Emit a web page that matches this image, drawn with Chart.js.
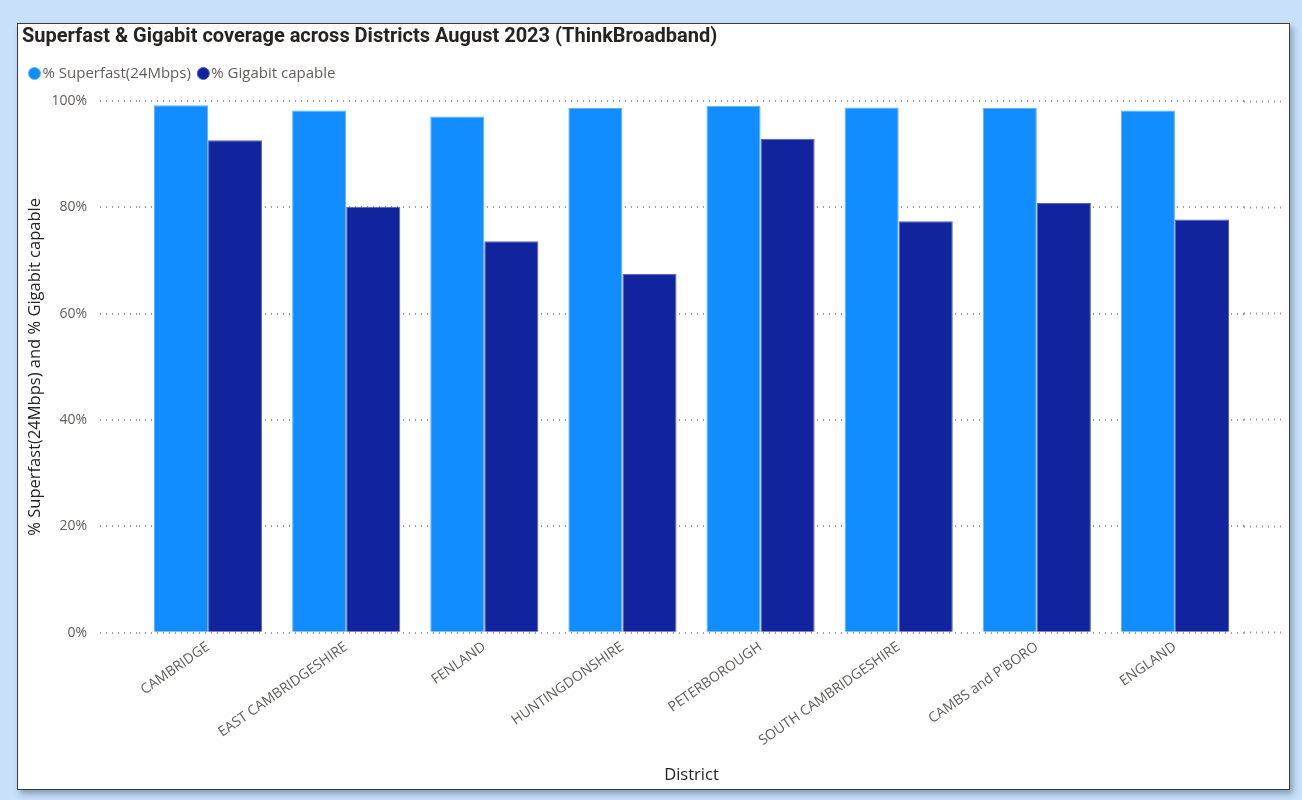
<!DOCTYPE html>
<html>
<head>
<meta charset="utf-8">
<title>Superfast & Gigabit coverage</title>
<script src="https://cdn.jsdelivr.net/npm/chart.js@4.4.0/dist/chart.umd.min.js"></script>
<style>
  html, body { margin: 0; padding: 0; }
  body {
    width: 1302px; height: 800px; overflow: hidden;
    background: #c8e1f9;
    font-family: "Open Sans", sans-serif;
  }
  .card {
    position: absolute; left: 17px; top: 23px;
    width: 1271px; height: 765px;
    background: #fff;
    border: 1px solid #3a3a3a;
    box-shadow: 3px 4px 6px rgba(60, 80, 110, 0.45);
  }
  .card canvas { display: block; }
</style>
</head>
<body>
<div class="card">
  <canvas id="myChart" width="1271" height="765"></canvas>
</div>
<script>
// Data
const districts = ['CAMBRIDGE', 'EAST CAMBRIDGESHIRE', 'FENLAND', 'HUNTINGDONSHIRE',
                   'PETERBOROUGH', 'SOUTH CAMBRIDGESHIRE', "CAMBS and P'BORO", 'ENGLAND'];
const superfast = [99.2, 98.2, 97.1, 98.7, 99.1, 98.8, 98.7, 98.2];
const gigabit = [92.6, 80.1, 73.6, 67.5, 92.9, 77.4, 80.8, 77.7];
const yTicks = [0, 20, 40, 60, 80, 100];

const dotted = [1, 5];
const dotColor = '#9a9a9a';
const tickGrey = '#605E5C';

// leave some room between the legend and the plot
const legendGap = {
    id: 'legendGap',
    beforeInit(chart) {
        const fit = chart.legend.fit;
        chart.legend.fit = function () {
            fit.bind(chart.legend)();
            this.height += 10;
        };
    }
};

const ctx = document.getElementById('myChart');

new Chart(ctx, {
    type: 'bar',
    data: {
        labels: districts,
        datasets: [{
            label: '% Superfast(24Mbps)',
            data: superfast,
            backgroundColor: '#118DFF',
            borderColor: '#62b3ff',
            borderWidth: 1
        }, {
            label: '% Gigabit capable',
            data: gigabit,
            backgroundColor: '#12239E',
            borderColor: '#5561bd',
            borderWidth: 1
        }]
    },
    plugins: [legendGap],
    options: {
        responsive: false,
        animation: false,
        layout: { padding: { left: 4, right: 3, top: 1, bottom: 2 } },
        datasets: {
            bar: { categoryPercentage: 0.783, barPercentage: 1.0 }
        },
        plugins: {
            tooltip: { enabled: false },
            title: {
                display: true,
                align: 'start',
                text: 'Superfast & Gigabit coverage across Districts August 2023 (ThinkBroadband)',
                color: '#252423',
                font: { family: 'Roboto', size: 20, weight: 'bold' },
                padding: { top: 0, bottom: 5 }
            },
            legend: {
                position: 'top',
                align: 'start',
                labels: {
                    usePointStyle: true,
                    pointStyle: 'circle',
                    boxWidth: 1,
                    boxHeight: 8.5,
                    padding: 12,
                    color: tickGrey,
                    font: { family: 'Open Sans', size: 15 }
                }
            }
        },
        scales: {
            x: {
                grid: { display: false, drawTicks: false },
                border: { display: false },
                ticks: {
                    color: tickGrey,
                    font: { family: 'Open Sans', size: 14 },
                    minRotation: 35,
                    maxRotation: 35,
                    padding: 6
                },
                title: {
                    display: true,
                    text: 'District',
                    color: '#252423',
                    font: { family: 'Open Sans', size: 16.5 },
                    padding: { top: 10, bottom: 2 }
                }
            },
            y: {
                min: 0,
                max: 100,
                afterBuildTicks: (axis) => { axis.ticks = yTicks.map(v => ({ value: v })); },
                afterFit: (axis) => { axis.width = 117; },
                grid: {
                    color: dotColor,
                    lineWidth: 2,
                    tickLength: 39,
                    tickColor: dotColor,
                    tickWidth: 2,
                    tickBorderDash: dotted
                },
                border: { display: false, dash: dotted },
                ticks: {
                    color: tickGrey,
                    font: { family: 'Open Sans', size: 14 },
                    padding: 13,
                    callback: (v) => v + '%'
                },
                title: {
                    display: true,
                    text: '% Superfast(24Mbps) and % Gigabit capable',
                    color: '#252423',
                    font: { family: 'Open Sans', size: 16.5 },
                    padding: { top: 3, bottom: 7 }
                }
            },
            yRight: {
                position: 'right',
                min: 0,
                max: 100,
                afterBuildTicks: (axis) => { axis.ticks = yTicks.map(v => ({ value: v })); },
                grid: {
                    drawOnChartArea: false,
                    tickLength: 42,
                    tickColor: dotColor,
                    tickWidth: 2,
                    tickBorderDash: dotted
                },
                border: { display: false },
                ticks: { display: false }
            }
        }
    }
});
</script>
</body>
</html>
